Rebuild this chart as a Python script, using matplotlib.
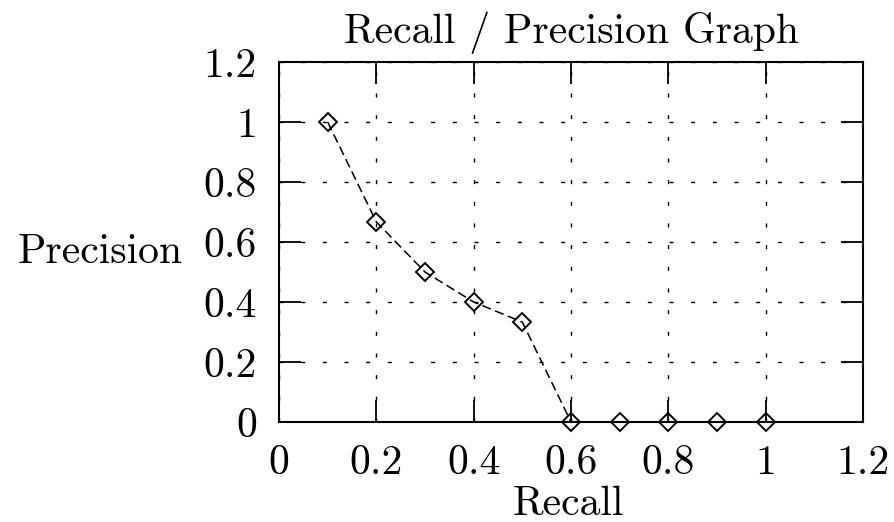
import matplotlib
matplotlib.use("Agg")
import matplotlib.pyplot as plt
import numpy as np

recall = [0.1, 0.2, 0.3, 0.4, 0.5, 0.6, 0.7, 0.8, 0.9, 1.0]
precision = [1.0, 0.667, 0.5, 0.4, 0.333, 0.0, 0.0, 0.0, 0.0, 0.0]
ticks = [0, 0.2, 0.4, 0.6, 0.8, 1.0, 1.2]
tick_labels = ["0", "0.2", "0.4", "0.6", "0.8", "1", "1.2"]

plt.rcParams['font.family'] = ['cmr10', 'DejaVu Serif']
plt.rcParams['axes.formatter.use_mathtext'] = True
plt.rcParams['font.size'] = 30

fig = plt.figure(figsize=(8.95, 5.22), dpi=100)
# axes box: x 279..863, y 62..422 px
ax = fig.add_axes([279 / 895, 100 / 522, 584 / 895, 360 / 522])

ax.plot(recall, precision, color='black', linestyle=(0, (6, 3)), linewidth=1.1,
        marker='D', markersize=9, markerfacecolor='none', markeredgecolor='black',
        markeredgewidth=1.4, zorder=3, clip_on=False)

ax.set_xlim(0, 1.2)
ax.set_ylim(0, 1.2)
ax.set_xticks(ticks)
ax.set_xticklabels(tick_labels)
ax.set_yticks(ticks)
ax.set_yticklabels(tick_labels)
ax.tick_params(direction='in', length=15.5, width=1.3, top=True, right=True)
ax.tick_params(axis='y', pad=16)
ax.tick_params(axis='x', pad=16)

ax.grid(True, color='black', linestyle=(0, (2.9, 12.7)), linewidth=1.0)

for s in ax.spines.values():
    s.set_linewidth(1.5)

ax.text(0.5, 1.053, "Recall / Precision Graph", transform=ax.transAxes,
        ha='center', va='baseline')
ax.set_xlabel("Recall", va='baseline')
ax.xaxis.set_label_coords(0.495, -0.258)
ax.set_ylabel("Precision", rotation=0, ha='right', va='baseline')
ax.yaxis.set_label_coords(-0.164, 0.442)

plt.savefig("out.png", dpi=100)
